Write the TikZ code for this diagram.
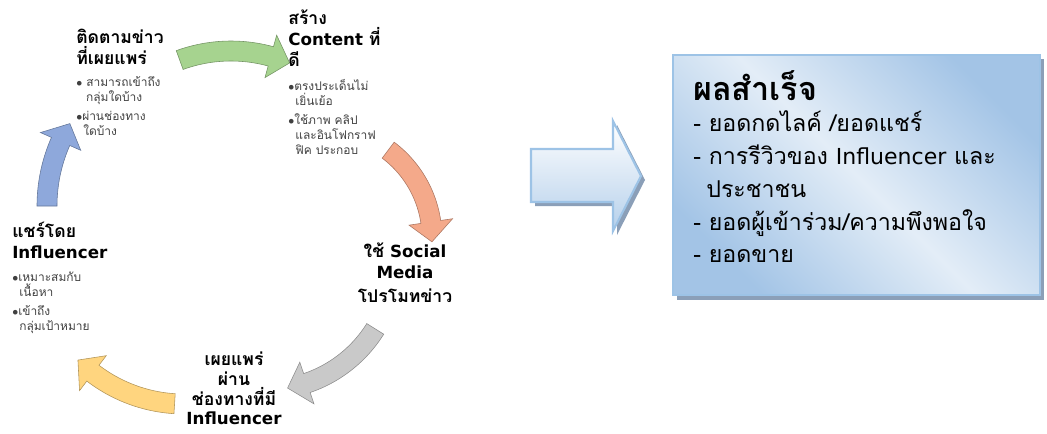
\documentclass[tikz,border=0pt]{standalone}
\usepackage{fontspec}
\setmainfont{Loma}[Script=Thai]
\newfontfamily\latinfont{DejaVu Sans}[Scale=0.95]
\newcommand{\en}[1]{{\latinfont #1}}
\usetikzlibrary{calc}

\definecolor{cycgreen}{HTML}{A6D38F}
\definecolor{cycorange}{HTML}{F4A98A}
\definecolor{cycgray}{HTML}{C9C9C9}
\definecolor{cycyellow}{HTML}{FFD57F}
\definecolor{cycblue}{HTML}{8EA8DB}
\definecolor{bodygray}{HTML}{404040}
\definecolor{boxborder}{HTML}{9DC3E6}
\definecolor{boxdark}{HTML}{A3C4E6}
\definecolor{boxlight}{HTML}{E3EDF7}
\definecolor{shadowgray}{HTML}{8B9FB8}

\tikzset{
  cychead/.style={font=\bfseries\fontsize{12.5}{14.8}\selectfont, inner sep=0pt, align=left, anchor=north west},
  cycbullet/.style={font=\fontsize{8.5}{10.6}\selectfont, text=bodygray, inner sep=0pt, align=left, anchor=north west},
  cycarrow/.style={draw=#1!70!black, line width=0.4pt, fill=#1},
  reshead/.style={font=\bfseries\fontsize{23}{26}\selectfont, inner sep=0pt, anchor=base west},
  resline/.style={font=\fontsize{16.5}{20}\selectfont, inner sep=0pt, anchor=base west},
}

% curved cycle arrow: centre x, centre y, radius, start angle, head base angle, tip angle, colour
\newcommand{\cyclearrow}[7]{%
  \filldraw[cycarrow=#7]
    plot[domain=#4:#5, samples=25] ({#1+(#3+10)*cos(\x)}, {#2+(#3+10)*sin(\x)})
    -- ({#1+(#3+22)*cos(#5)}, {#2+(#3+22)*sin(#5)})
    -- ({#1+#3*cos(#6)}, {#2+#3*sin(#6)})
    -- ({#1+(#3-22)*cos(#5)}, {#2+(#3-22)*sin(#5)})
    -- plot[domain=#5:#4, samples=25] ({#1+(#3-10)*cos(\x)}, {#2+(#3-10)*sin(\x)})
    -- cycle;}

\begin{document}
\begin{tikzpicture}[x=0.025cm, y=-0.025cm]
  \useasboundingbox (0,0) rectangle (1047,434);

  % CYCLE ARROWS
  \cyclearrow{231}{201}{150}{250}{285.4}{293}{cycgreen}
  \cyclearrow{322}{238}{110}{-53}{-8.4}{2}{cycorange}
  \cyclearrow{265}{260}{130}{32}{71.2}{80}{cycgray}
  \cyclearrow{184}{254}{150}{93.6}{127.4}{135}{cycyellow}
  \cyclearrow{207}{206}{160}{180}{203.8}{211}{cycblue}

  % CYCLE STEPS
  \node[cychead] (follow) at (76,29) {ติดตามข่าว\\ที่เผยแพร่};
  \node[cycbullet] (followpts) at (76,76) {$\bullet$\ สามารถเข้าถึง\\\hspace*{7pt}กลุ่มใดบ้าง\\[3pt]$\bullet$ผ่านช่องทาง\\\hspace*{5pt}ใดบ้าง};

  \node[cychead] (create) at (288,10) {สร้าง\\\en{Content} ที่\\ดี};
  \node[cycbullet] (createpts) at (288,79) {$\bullet$ตรงประเด็นไม่\\\hspace*{5pt}เยิ่นเย้อ\\[3pt]$\bullet$ใช้ภาพ คลิป\\\hspace*{5pt}และอินโฟกราฟ\\\hspace*{5pt}ฟิค ประกอบ};

  \node[cychead, align=center, anchor=north] (promote) at (405,243) {ใช้ \en{Social}\\\en{Media}\\[2pt]โปรโมทข่าว};

  \node[cychead, font=\bfseries\fontsize{12.5}{14}\selectfont, align=center, anchor=north] (spread) at (234,352) {เผยแพร่\\ผ่าน\\ช่องทางที่มี\\\en{Influencer}};

  \node[cychead] (share) at (12,222) {แชร์โดย\\\en{Influencer}};
  \node[cycbullet] (sharepts) at (12,272) {$\bullet$เหมาะสมกับ\\\hspace*{5pt}เนื้อหา\\[3pt]$\bullet$เข้าถึง\\\hspace*{5pt}กลุ่มเป้าหมาย};

  % BLOCK ARROW (with shadow)
  \fill[shadowgray] (535,153) -- (617,153) -- (617,125) -- (645,180) -- (617,235) -- (617,206) -- (535,206) -- cycle;
  \draw[boxborder, line width=1.5pt, top color=white, bottom color=boxdark!80] (531,149) -- (613,149) -- (613,121) -- (641,176) -- (613,231) -- (613,202) -- (531,202) -- cycle;

  % RESULT BOX
  \fill[shadowgray] (677,59) rectangle (1044,300);
  \draw[boxborder, line width=1.2pt, top color=boxdark, bottom color=boxdark, middle color=boxlight, shading angle=-45] (673,55) rectangle (1040,295);
  \node[reshead] (result) at (693,100) {ผลสำเร็จ};
  \foreach \xx/\yy/\txt [count=\i] in {693/131/{- ยอดกดไลค์ /ยอดแชร์}, 693/164/{- การรีวิวของ \en{Influencer} และ}, 706/197/{ประชาชน}, 693/230/{- ยอดผู้เข้าร่วม/ความพึงพอใจ}, 693/262/{- ยอดขาย}}
    \node[resline] (res\i) at (\xx,\yy) {\txt};
\end{tikzpicture}
\end{document}
